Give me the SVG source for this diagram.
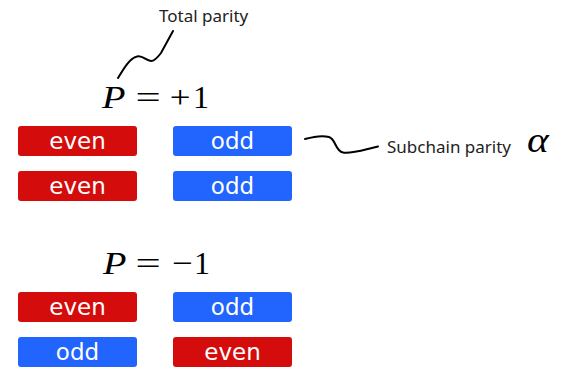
<svg xmlns="http://www.w3.org/2000/svg" width="561" height="369" viewBox="0 0 561 369">
  <style>
    .even rect { fill: #d40c0c; }
    .odd rect { fill: #2164fe; }
    .tag { font-family: "DejaVu Sans", sans-serif; font-size: 23px; fill: #ffffff; text-anchor: middle; }
    .note { font-family: "Noto Sans", sans-serif; font-size: 17px; fill: #222222; }
    .math { font-family: "Liberation Serif", "DejaVu Serif", serif; font-size: 32px; fill: #000000; }
    .mathi { font-style: italic; }
    .op { text-anchor: middle; }
    .wire { fill: none; stroke: #000000; stroke-width: 2; stroke-linecap: round; }
  </style>

  <!-- total parity P = +1 -->
  <g id="eq-plus">
    <text class="math mathi" transform="translate(102,108) scale(1.2,1)">P</text>
    <text class="math op" transform="translate(148,108) scale(1.4,1)">=</text>
    <text class="math op" transform="translate(180,108) scale(1.15,1)">+</text>
    <text class="math op" x="201" y="108">1</text>
  </g>

  <g id="label-total">
    <text class="note" x="159" y="22">Total parity</text>
  </g>

  <g id="label-sub">
    <text class="note" x="387" y="153">Subchain parity</text>
    <text class="math mathi" transform="translate(527,152) scale(1.15,1)" style="font-size:36px">α</text>
  </g>

  <!-- P = +1 chains -->
  <g id="a1" class="even"><rect x="18" y="126" width="119" height="30" rx="3"/><text class="tag" x="77.5" y="149">even</text></g>
  <g id="b1" class="odd"><rect x="173" y="126" width="119" height="30" rx="3"/><text class="tag" x="232.5" y="149">odd</text></g>
  <g id="a2" class="even"><rect x="18" y="171" width="119" height="30" rx="3"/><text class="tag" x="77.5" y="194">even</text></g>
  <g id="b2" class="odd"><rect x="173" y="171" width="119" height="30" rx="3"/><text class="tag" x="232.5" y="194">odd</text></g>

  <!-- total parity P = -1 -->
  <g id="eq-minus">
    <text class="math mathi" transform="translate(103,274) scale(1.2,1)">P</text>
    <text class="math op" transform="translate(148,274) scale(1.4,1)">=</text>
    <text class="math op" transform="translate(182,274) scale(1.15,1)">−</text>
    <text class="math op" x="202" y="274">1</text>
  </g>

  <!-- P = -1 chains -->
  <g id="c1" class="even"><rect x="18" y="292" width="119" height="30" rx="3"/><text class="tag" x="77.5" y="315">even</text></g>
  <g id="d1" class="odd"><rect x="173" y="292" width="119" height="30" rx="3"/><text class="tag" x="232.5" y="315">odd</text></g>
  <g id="c2" class="odd"><rect x="18" y="337" width="119" height="30" rx="3"/><text class="tag" x="77.5" y="360">odd</text></g>
  <g id="d2" class="even"><rect x="173" y="337" width="119" height="30" rx="3"/><text class="tag" x="232.5" y="360">even</text></g>

  <!-- wavy pointer lines -->
  <g id="connectors">
    <path class="wire" d="M118,78 C124,68 130,58 137,56.5 C143,55 146,61 151,61 C155,61 158,57 161,53 L173,31"/>
    <path class="wire" d="M305,139 C312,137 322,135 329,137 C336,139 335,151 343,152.5 C352,154 366,149 378,146.5"/>
  </g>
</svg>
